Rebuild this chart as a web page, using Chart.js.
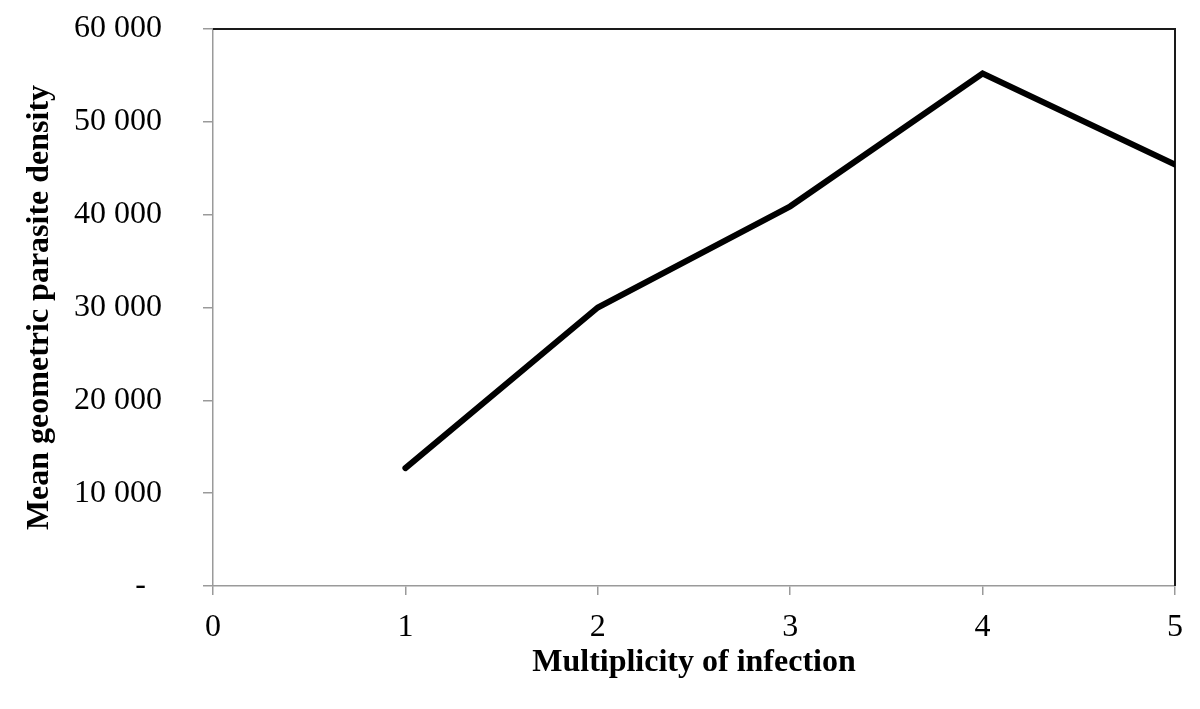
<!DOCTYPE html>
<html>
<head>
<meta charset="utf-8">
<script src="https://cdn.jsdelivr.net/npm/chart.js@4/dist/chart.umd.min.js"></script>
<style>
  html, body { margin: 0; padding: 0; background: #ffffff; }
  #wrap { width: 1200px; height: 709px; position: relative; }
</style>
</head>
<body>
<div id="wrap"><canvas id="c" width="1200" height="709"></canvas></div>
<script>
// Data
const multiplicity = [1, 2, 3, 4, 5];
const meanDensity = [12700, 30000, 40900, 55200, 45400];
const xTicks = [0, 1, 2, 3, 4, 5];
const yTicks = [0, 10000, 20000, 30000, 40000, 50000, 60000];
const xTitle = 'Multiplicity of infection';
const yTitle = 'Mean geometric parasite density';

function fmt(v) {
  if (v === 0) return '-  ';
  return String(v).replace(/\B(?=(\d{3})+(?!\d))/g, ' ');
}

const frame = {
  id: 'frame',
  beforeDatasetsDraw(chart) {
    const { ctx, chartArea: a } = chart;
    ctx.save();
    ctx.strokeStyle = '#1a1a1a';
    ctx.lineWidth = 2;
    ctx.beginPath();
    ctx.moveTo(a.left, a.top);
    ctx.lineTo(a.right, a.top);
    ctx.lineTo(a.right, a.bottom);
    ctx.stroke();
    ctx.restore();
  }
};

new Chart(document.getElementById('c'), {
  type: 'line',
  data: {
    datasets: [{
      data: multiplicity.map((x, i) => ({ x: x, y: meanDensity[i] })),
      borderColor: '#000000',
      borderWidth: 6,
      borderCapStyle: 'round',
      borderJoinStyle: 'miter',
      pointRadius: 0,
      tension: 0,
      fill: false
    }]
  },
  options: {
    responsive: false,
    animation: false,
    devicePixelRatio: 1,
    layout: { padding: { top: 29, right: 25, left: 0, bottom: 0 } },
    plugins: { legend: { display: false }, tooltip: { enabled: false } },
    scales: {
      x: {
        type: 'linear',
        min: 0, max: 5,
        afterFit(s) { s.height = 123; s.paddingLeft = 0; s.paddingRight = 0; },
        afterBuildTicks(s) { s.ticks = xTicks.map(v => ({ value: v })); },
        border: { display: true, color: '#9a9a9a', width: 1.5 },
        grid: { display: true, drawOnChartArea: false, drawTicks: true, tickLength: 9, color: '#9a9a9a', lineWidth: 1.5 },
        ticks: { color: '#000', padding: 13, font: { family: 'Liberation Serif', size: 32 }, maxRotation: 0 },
        title: { display: true, text: xTitle, color: '#000', font: { family: 'Liberation Serif', size: 32, weight: 'bold' }, padding: { top: 0, bottom: 27 } }
      },
      y: {
        min: 0, max: 60000,
        afterFit(s) { s.width = 213; s.paddingTop = 0; s.paddingBottom = 0; },
        afterBuildTicks(s) { s.ticks = yTicks.map(v => ({ value: v })); },
        border: { display: true, color: '#9a9a9a', width: 1.5 },
        grid: { display: true, drawOnChartArea: false, drawTicks: true, tickLength: 10, color: '#9a9a9a', lineWidth: 1.5 },
        ticks: { color: '#000', padding: 41, font: { family: 'Liberation Serif', size: 32 }, callback: v => fmt(v) },
        title: { display: true, text: yTitle, color: '#000', font: { family: 'Liberation Serif', size: 32, weight: 'bold' }, padding: { top: 21, bottom: 0 } }
      }
    }
  },
  plugins: [frame]
});
</script>
</body>
</html>
